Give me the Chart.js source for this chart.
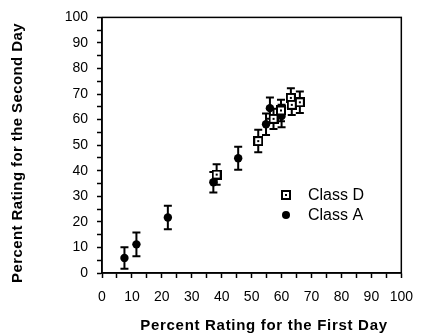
<!DOCTYPE html>
<html>
<head>
<meta charset="utf-8">
<script src="https://cdn.jsdelivr.net/npm/chart.js@4/dist/chart.umd.min.js"></script>
<style>
  html, body { margin: 0; padding: 0; background: #fff; }
  #wrap { width: 424px; height: 335px; }
</style>
</head>
<body>
<div id="wrap"><canvas id="grafico" width="424" height="335"></canvas></div>
<script>
// dados
const rotulosSeries = ["Class D", "Class A"];

const classeDx = [38.3, 52.2, 57.3, 59.8, 63.1, 63.4, 66.1];
const classeDy = [38.5, 51.6, 60.3, 63.6, 68.5, 65.8, 66.8];
const classeDerro = [4.0, 4.4, 4.0, 4.2, 3.8, 4.0, 4.2];

const classeAx = [7.5, 11.5, 22.0, 37.2, 45.5, 54.8, 56.1, 60.0];
const classeAy = [5.9, 11.2, 21.7, 35.5, 44.9, 58.2, 64.5, 61.4];
const classeAerro = [4.2, 4.6, 4.6, 4.0, 4.5, 4.2, 4.2, 4.4];

const tituloX = "Percent Rating for the First Day";
const tituloY = "Percent Rating for the Second Day";

const fonte = "'Liberation Sans', Arial, Helvetica, sans-serif";

// marcador quadrado vazado com ponto no centro
const quadrado = document.createElement("canvas");
quadrado.width = 10; quadrado.height = 10;
const q = quadrado.getContext("2d");
q.fillStyle = "#000";
q.fillRect(0, 0, 10, 10);
q.fillStyle = "#fff";
q.fillRect(2, 2, 6, 6);
q.fillStyle = "#000";
q.fillRect(4, 4, 2, 2);

const erros = [classeDerro, classeAerro];

// barras de erro desenhadas antes dos pontos
const barrasErro = {
  id: "barrasErro",
  beforeDatasetsDraw(chart) {
    const ctx = chart.ctx;
    const sx = chart.scales.x, sy = chart.scales.y;
    ctx.save();
    ctx.strokeStyle = "#000";
    ctx.lineWidth = 2;
    chart.data.datasets.forEach((ds, i) => {
      ds.data.forEach((p, j) => {
        const e = erros[i][j];
        const x = sx.getPixelForValue(p.x);
        const y1 = sy.getPixelForValue(p.y + e);
        const y2 = sy.getPixelForValue(p.y - e);
        ctx.beginPath();
        ctx.moveTo(x, y1); ctx.lineTo(x, y2);
        ctx.moveTo(x - 4, y1); ctx.lineTo(x + 4, y1);
        ctx.moveTo(x - 4, y2); ctx.lineTo(x + 4, y2);
        ctx.stroke();
      });
    });
    ctx.restore();
  },
  afterDraw(chart) {
    const ctx = chart.ctx;
    const a = chart.chartArea;
    ctx.save();
    ctx.strokeStyle = "#000";
    ctx.lineWidth = 1.5;
    ctx.strokeRect(a.left, a.top, a.right - a.left, a.bottom - a.top);

    // legenda dentro da área
    const sx = chart.scales.x, sy = chart.scales.y;
    const lx = Math.round(sx.getPixelForValue(61.5));
    const ly = [Math.round(sy.getPixelForValue(30.5)), Math.round(sy.getPixelForValue(22.5))];
    ctx.font = "16px " + fonte;
    ctx.fillStyle = "#000";
    ctx.textBaseline = "middle";
    chart.data.datasets.forEach((ds, i) => {
      if (i === 0) {
        ctx.drawImage(quadrado, lx - 5, ly[i] - 5);
      } else {
        ctx.beginPath();
        ctx.arc(lx, ly[i], 4, 0, Math.PI * 2);
        ctx.fill();
      }
      ctx.fillText(ds.label, lx + 22, ly[i] + 1);
    });

    // títulos dos eixos (letras um pouco espaçadas como no original)
    ctx.font = "bold 15px " + fonte;
    ctx.textAlign = "center";
    ctx.textBaseline = "alphabetic";
    ctx.letterSpacing = "0.7px";
    ctx.fillText(tituloX, 264, 330);
    ctx.letterSpacing = "0.4px";
    ctx.translate(22, 153);
    ctx.rotate(-Math.PI / 2);
    ctx.fillText(tituloY, 0, 0);
    ctx.restore();
  }
};

const pontos = (xs, ys) => xs.map((x, i) => ({ x: x, y: ys[i] }));

new Chart(document.getElementById("grafico").getContext("2d"), {
  type: "scatter",
  data: {
    datasets: [{
      label: rotulosSeries[0],
      data: pontos(classeDx, classeDy),
      pointStyle: quadrado,
      pointRadius: 5
    }, {
      label: rotulosSeries[1],
      data: pontos(classeAx, classeAy),
      pointStyle: "circle",
      pointRadius: 4.2,
      backgroundColor: "#000",
      borderColor: "#000",
      borderWidth: 0
    }]
  },
  options: {
    responsive: false,
    animation: false,
    layout: { padding: { top: 14, right: 14, left: 0, bottom: 0 } },
    plugins: { legend: { display: false }, tooltip: { enabled: false } },
    scales: {
      x: {
        type: "linear",
        min: 0, max: 100,
        afterFit: s => { s.height = 62; },
        grid: { drawOnChartArea: false, drawTicks: true, tickLength: 5, tickColor: "#000", tickWidth: 1.5 },
        border: { display: true, color: "#000", width: 1.5 },
        ticks: {
          stepSize: 5, autoSkip: false, maxRotation: 0, padding: 11,
          color: "#000", font: { family: fonte, size: 14 },
          callback: v => (v % 10 === 0 ? v : "")
        }
      },
      y: {
        type: "linear",
        min: 0, max: 100,
        afterFit: s => { s.width = 102; },
        grid: { drawOnChartArea: false, drawTicks: true, tickLength: 5, tickColor: "#000", tickWidth: 1.5 },
        border: { display: true, color: "#000", width: 1.5 },
        ticks: {
          stepSize: 5, autoSkip: false, padding: 9,
          color: "#000", font: { family: fonte, size: 14 },
          callback: v => (v % 10 === 0 ? v : "")
        }
      }
    }
  },
  plugins: [barrasErro]
});
</script>
</body>
</html>
